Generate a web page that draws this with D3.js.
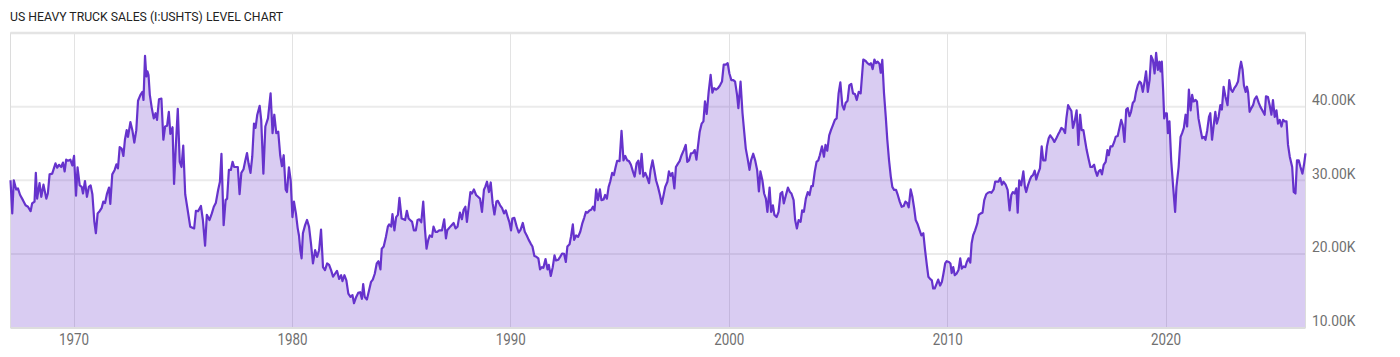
<!DOCTYPE html>
<html>
<head>
<meta charset="utf-8">
<script src="https://cdn.jsdelivr.net/npm/d3@7"></script>
<style>
  body { margin: 0; background: #fff; }
  svg { display: block; }
</style>
</head>
<body>
<div id="chart"></div>
<script>
const chartTitle = "US HEAVY TRUCK SALES (I:USHTS) LEVEL CHART";

// decimal year of each reading
const years = [
  1967.11,1967.19,1967.26,1967.37,1967.45,1967.55,1967.68,1967.80,1967.91,1968.03,1968.10,1968.21,1968.27,1968.33,1968.44,1968.52,1968.62,1968.75,1968.82,1968.90,
  1969.02,1969.17,1969.25,1969.33,1969.43,1969.51,1969.59,1969.66,1969.74,1969.85,1969.94,1970.02,1970.11,1970.18,1970.28,1970.37,1970.43,1970.52,1970.61,1970.70,
  1970.78,1970.86,1970.95,1971.02,1971.10,1971.19,1971.28,1971.36,1971.44,1971.53,1971.62,1971.68,1971.77,1971.88,1971.96,1972.03,1972.11,1972.20,1972.28,1972.35,
  1972.43,1972.49,1972.60,1972.69,1972.78,1972.87,1972.95,1973.06,1973.15,1973.20,1973.27,1973.33,1973.38,1973.43,1973.49,1973.58,1973.67,1973.75,1973.82,1973.91,
  1974.02,1974.11,1974.19,1974.28,1974.36,1974.43,1974.53,1974.60,1974.68,1974.77,1974.86,1974.94,1975.02,1975.11,1975.20,1975.34,1975.52,1975.60,1975.70,1975.83,
  1975.92,1976.02,1976.10,1976.22,1976.33,1976.42,1976.51,1976.62,1976.70,1976.77,1976.87,1976.96,1977.03,1977.11,1977.20,1977.28,1977.35,1977.52,1977.60,1977.68,
  1977.78,1977.87,1977.94,1978.01,1978.10,1978.18,1978.26,1978.33,1978.41,1978.52,1978.59,1978.69,1978.78,1978.90,1979.02,1979.11,1979.19,1979.28,1979.37,1979.46,
  1979.54,1979.62,1979.71,1979.77,1979.86,1979.94,1980.02,
  1980.09,1980.18,1980.26,1980.32,1980.38,1980.44,1980.50,1980.60,1980.69,1980.78,1980.87,1980.96,1981.06,1981.15,1981.24,1981.33,1981.42,1981.51,1981.61,1981.70,
  1981.79,1981.88,1981.97,1982.06,1982.16,1982.25,1982.31,1982.40,1982.49,1982.58,1982.68,1982.77,1982.84,1982.94,1983.03,1983.12,1983.20,1983.26,1983.33,1983.43,
  1983.53,1983.62,1983.70,1983.79,1983.88,1983.96,1984.05,1984.11,1984.20,1984.30,1984.39,1984.45,1984.54,1984.60,1984.69,1984.77,1984.85,1984.92,1985.02,1985.11,
  1985.18,1985.26,1985.34,1985.41,1985.50,1985.58,1985.67,1985.75,1985.83,1985.92,1986.01,1986.09,1986.16,1986.24,1986.31,1986.41,1986.48,1986.57,1986.65,1986.74,
  1986.87,1986.97,1987.05,1987.11,1987.22,1987.31,1987.40,1987.49,1987.58,1987.69,1987.78,1987.86,1987.94,1988.01,1988.09,1988.17,1988.24,1988.33,1988.43,1988.52,
  1988.61,1988.70,1988.79,1988.85,1988.93,1989.02,1989.10,1989.19,1989.27,1989.36,1989.43,1989.53,1989.62,1989.71,1989.79,1989.88,1989.95,1990.03,1990.09,1990.18,
  1990.29,1990.38,1990.47,1990.57,1990.66,1990.75,1990.84,1990.93,1991.01,1991.10,1991.19,1991.28,1991.36,1991.44,1991.51,1991.61,1991.70,1991.76,1991.85,1991.94,
  1992.02,1992.09,1992.19,1992.28,1992.37,1992.46,1992.54,1992.61,1992.71,1992.78,1992.86,1992.92,1993.01,1993.10,1993.20,
  1993.29,1993.38,1993.46,1993.53,1993.62,1993.70,1993.78,1993.85,1993.93,1994.01,1994.10,1994.17,1994.27,1994.34,1994.42,1994.50,1994.57,1994.66,1994.74,1994.82,
  1994.89,1995.00,1995.09,1995.18,1995.26,1995.35,1995.43,1995.52,1995.61,1995.69,1995.78,1995.86,1995.93,1996.01,1996.09,1996.18,1996.25,1996.35,1996.42,1996.51,
  1996.59,1996.67,1996.76,1996.85,1996.93,1997.00,1997.09,1997.19,1997.26,1997.34,1997.42,1997.51,1997.58,1997.68,1997.75,1997.84,1997.94,1998.03,1998.10,1998.18,
  1998.27,1998.36,1998.44,1998.52,1998.59,1998.67,1998.76,1998.84,1998.91,1998.99,1999.08,1999.17,1999.25,1999.33,1999.42,1999.51,1999.60,1999.69,1999.77,1999.86,
  1999.95,2000.03,2000.12,2000.21,2000.29,2000.38,2000.44,2000.54,2000.63,2000.70,2000.78,2000.86,2000.95,2001.02,2001.12,2001.21,2001.30,2001.38,2001.45,2001.54,
  2001.62,2001.70,2001.77,2001.87,2001.94,2002.02,2002.09,2002.19,2002.28,2002.37,2002.45,2002.52,2002.61,2002.71,2002.80,2002.87,2002.97,2003.04,2003.12,2003.20,
  2003.29,2003.36,2003.44,2003.53,2003.62,2003.70,2003.78,2003.85,2003.94,2004.02,2004.10,2004.17,2004.27,2004.36,2004.43,2004.51,2004.60,2004.68,2004.77,2004.86,
  2004.94,2005.03,2005.11,2005.20,2005.28,2005.35,2005.44,2005.52,2005.61,2005.69,2005.78,2005.86,2005.95,2006.04,
  2006.16,2006.27,2006.35,2006.44,2006.51,2006.59,2006.67,2006.74,2006.82,2006.90,2006.96,2007.03,2007.11,2007.19,2007.26,2007.34,2007.42,2007.49,2007.57,2007.66,
  2007.74,2007.83,2007.92,2008.01,2008.09,2008.17,2008.24,2008.33,2008.41,2008.49,2008.56,2008.64,2008.73,2008.82,2008.91,2008.99,2009.07,2009.14,2009.22,2009.30,
  2009.36,2009.43,2009.51,2009.59,2009.68,2009.76,2009.83,2009.91,2009.98,2010.08,2010.15,2010.21,2010.28,2010.35,2010.43,2010.52,2010.60,2010.67,2010.75,2010.83,
  2010.90,2010.98,2011.06,2011.12,2011.19,2011.28,2011.38,2011.45,2011.54,2011.62,2011.70,2011.79,2011.87,2011.96,2012.03,2012.13,2012.20,2012.28,2012.35,2012.43,
  2012.51,2012.58,2012.68,2012.77,2012.86,2012.94,2013.01,2013.09,2013.17,2013.23,2013.30,2013.39,2013.49,2013.56,2013.62,2013.70,2013.78,2013.85,2013.93,2014.01,
  2014.08,2014.16,2014.25,2014.33,2014.40,2014.50,2014.57,2014.65,2014.72,2014.82,2014.91,2015.00,2015.08,2015.15,2015.23,2015.32,2015.40,2015.46,2015.54,2015.61,
  2015.69,2015.76,2015.84,2015.93,2016.01,2016.09,2016.16,2016.24,2016.31,2016.39,2016.47,2016.56,2016.64,2016.73,2016.80,2016.87,2016.94,2017.02,2017.09,2017.17,
  2017.26,2017.34,2017.40,2017.48,2017.57,2017.65,2017.72,2017.81,2017.89,2017.97,2018.04,2018.12,2018.20,2018.27,2018.35,2018.42,2018.50,2018.58,2018.65,2018.73,
  2018.81,2018.88,
  2018.96,2019.04,2019.11,2019.19,2019.27,2019.34,2019.42,2019.50,2019.57,2019.65,2019.72,2019.77,2019.83,2019.89,2019.94,2020.00,2020.06,2020.11,2020.18,2020.26,
  2020.35,2020.44,2020.50,2020.60,2020.69,2020.76,2020.84,2020.92,2020.99,2021.07,2021.15,2021.22,2021.28,2021.38,2021.44,2021.51,2021.61,2021.68,2021.76,2021.83,
  2021.91,2021.99,2022.05,2022.13,2022.20,2022.28,2022.35,2022.43,2022.51,2022.58,2022.66,2022.74,2022.84,2022.92,2023.00,2023.07,2023.15,2023.24,2023.32,2023.39,
  2023.46,2023.53,2023.59,2023.67,2023.73,2023.78,2023.85,2023.93,2024.01,2024.08,2024.17,2024.27,2024.34,2024.43,2024.54,2024.60,2024.69,2024.77,2024.85,2024.92,
  2025.00,2025.08,2025.15,2025.23,2025.31,2025.38,2025.46,2025.54,2025.61,2025.69,2025.80,2025.87,2025.95,2026.02,2026.10,2026.18,2026.27,2026.35,2026.41
];

// sales, thousands of units
const sales = [
  30.0,25.5,30.0,28.75,28.9,28.0,27.3,26.6,26.4,25.8,26.85,27.1,31.0,27.5,29.6,27.75,29.4,27.5,28.2,30.8,
  30.9,32.3,31.7,32.1,31.8,32.4,31.2,32.8,32.65,32.8,32.0,33.3,27.9,31.75,29.3,29.1,28.2,29.9,27.75,29.1,
  29.3,28.1,24.35,22.8,25.5,25.8,26.2,27.1,26.9,28.2,29.0,26.8,30.8,31.4,32.15,31.6,34.5,34.3,33.3,35.5,
  36.8,35.9,37.9,36.8,35.1,36.8,40.8,41.6,42.0,40.9,46.9,44.1,44.8,44.3,41.6,39.8,38.4,39.1,38.2,41.0,
  41.1,35.5,37.3,37.4,39.3,36.3,37.2,29.5,34.6,39.7,32.5,31.8,34.7,28.1,26.4,23.7,23.45,25.85,25.8,26.5,
  24.6,21.1,25.3,24.6,25.5,26.4,26.9,28.7,29.8,33.6,23.9,27.3,27.5,31.4,31.4,32.5,31.8,31.8,28.1,31.0,
  31.5,32.8,33.7,32.3,31.0,33.2,37.7,37.1,38.9,40.1,38.2,30.9,37.3,38.4,41.8,36.4,38.9,36.4,36.6,33.4,
  31.9,33.4,28.75,28.4,31.75,30.0,25.0,
  27.1,25.5,23.5,22.5,20.5,19.4,22.8,23.9,24.6,23.7,21.4,18.7,20.5,19.6,20.5,23.3,18.2,17.8,18.7,18.5,
  17.8,16.9,17.3,17.7,16.6,17.1,16.3,17.1,16.4,14.6,14.15,14.4,13.3,14.15,14.7,14.8,13.9,15.9,14.15,13.8,
  15.05,16.2,16.5,17.3,18.7,19.0,17.9,20.7,21.0,22.3,23.7,24.0,23.7,25.4,23.2,25.0,25.3,27.6,24.8,24.7,
  24.6,25.85,24.8,24.6,24.35,23.2,23.2,24.6,24.7,24.3,27.1,23.3,20.7,21.9,22.5,22.3,23.7,23.0,23.0,23.2,
  23.2,24.7,22.1,23.2,23.6,23.9,24.2,23.45,23.7,25.6,24.7,26.0,26.4,24.35,26.4,28.4,28.2,28.75,28.0,27.75,
  27.5,25.7,28.7,29.1,29.8,28.4,29.7,26.85,25.35,27.1,27.2,26.6,26.2,25.5,25.9,25.0,24.35,23.2,24.8,24.9,
  23.7,22.9,23.3,24.2,23.0,22.5,21.9,21.4,21.0,19.7,19.6,19.4,17.9,18.2,18.1,19.3,17.9,18.5,17.0,18.2,
  19.8,19.1,19.2,19.6,20.05,20.0,18.9,21.0,21.3,22.4,24.0,21.9,22.5,22.3,23.0,
  24.1,24.9,25.7,25.6,25.9,26.0,26.4,25.9,28.75,27.3,28.75,27.3,27.4,28.0,27.5,29.1,29.8,31.0,30.7,31.8,
  32.65,32.6,36.7,32.7,33.3,32.7,32.6,32.1,31.2,30.5,32.3,32.65,30.9,33.6,30.5,31.0,30.5,29.6,31.4,32.7,
  31.4,30.0,29.1,28.0,26.8,27.75,29.1,29.8,31.2,30.6,31.0,28.9,31.8,32.3,32.6,33.4,34.1,34.8,32.5,32.7,
  33.65,33.7,34.1,32.8,34.6,36.6,37.7,38.0,40.7,39.0,42.0,44.3,41.9,42.5,42.3,42.5,42.9,43.4,45.7,45.7,
  45.9,44.5,43.6,43.6,43.4,41.6,39.8,43.4,39.1,36.8,34.3,33.0,31.4,32.7,33.6,32.7,31.4,28.5,31.2,30.0,
  28.2,27.5,25.7,29.0,25.7,26.6,25.3,25.0,25.7,28.2,28.4,26.85,27.9,29.0,28.4,28.2,27.3,24.6,23.45,24.6,
  24.35,25.9,25.7,27.5,28.4,28.0,29.2,29.2,31.2,32.5,32.7,33.4,34.6,33.2,34.8,34.0,36.1,36.8,37.5,38.2,
  38.4,41.8,43.3,40.2,39.6,40.5,40.8,42.9,43.1,41.8,41.7,40.9,42.0,41.8,
  46.4,46.2,45.9,45.7,45.9,45.1,46.4,45.9,46.1,45.8,44.6,46.35,41.8,38.6,35.5,32.7,30.5,29.1,28.7,28.7,
  28.0,27.1,26.4,26.5,27.1,26.9,26.3,28.75,27.75,26.2,24.6,24.1,23.3,22.5,22.8,20.5,18.5,16.9,16.6,16.4,
  15.3,15.3,15.9,16.5,15.7,16.2,17.3,18.7,19.0,18.9,18.7,17.4,18.2,17.1,17.3,17.8,19.4,18.0,18.3,18.2,
  18.9,19.4,18.8,21.4,22.5,23.2,24.1,25.3,25.5,25.6,27.3,28.1,28.3,28.4,28.3,28.75,29.8,29.8,29.8,30.3,
  29.4,29.8,29.4,28.7,25.9,28.0,28.4,28.2,28.9,25.6,30.0,29.3,31.2,29.1,28.4,29.3,30.0,30.5,30.7,31.3,
  30.1,30.9,31.6,34.6,32.7,32.7,34.6,35.7,36.1,35.7,35.2,35.7,36.2,36.6,37.1,36.9,36.4,38.4,40.2,39.8,
  39.4,37.1,38.0,39.5,34.8,38.9,36.8,36.8,35.5,34.1,33.0,31.8,31.8,32.1,31.2,30.6,31.2,31.4,30.8,32.1,
  32.5,34.1,33.4,34.6,34.6,35.2,35.9,36.0,37.1,38.2,37.5,35.2,39.6,39.8,38.7,39.3,40.5,40.8,42.0,42.9,
  43.4,43.2,
  42.0,43.4,44.8,42.0,43.6,46.9,46.35,44.5,47.3,45.0,46.1,44.8,46.1,42.3,38.4,39.1,39.1,36.4,38.0,32.7,
  29.1,25.7,29.1,31.8,35.9,36.4,37.1,38.9,37.3,42.3,39.5,41.6,40.7,40.9,40.7,38.4,36.8,35.7,35.9,35.5,
  36.8,38.6,39.1,35.5,37.3,39.3,37.7,38.6,40.2,39.6,42.7,41.4,40.2,43.6,42.3,42.0,42.5,42.9,43.4,45.0,
  46.1,45.0,42.9,42.0,42.7,42.0,39.3,39.8,40.2,41.0,41.4,40.5,40.0,39.5,38.9,41.4,41.3,40.2,38.9,40.9,
  38.6,39.5,37.7,38.2,37.3,38.2,38.0,38.0,34.8,33.2,31.8,28.4,28.2,32.7,32.7,31.8,30.9,32.3,33.65
];

const xTicks = [1970, 1980, 1990, 2000, 2010, 2020];
const yTicks = [10, 20, 30, 40];
const yGrid = [20, 30, 40];

const W = 1400, H = 357;
const plot = { left: 10.5, right: 1305.5, top: 33, bottom: 327.5 };

const data = years.map((y, i) => ({ year: y, value: sales[i] }));

const x = d3.scaleLinear().domain(d3.extent(years)).range([plot.left, plot.right]);
const y = d3.scaleLinear().domain([10, 50]).range([plot.bottom, plot.top]);

const svg = d3.select("#chart").append("svg")
    .attr("width", W)
    .attr("height", H);

// title
svg.append("text")
    .attr("x", 10)
    .attr("y", 21)
    .attr("textLength", 273)
    .attr("lengthAdjust", "spacingAndGlyphs")
    .style("font-family", "Roboto, sans-serif")
    .style("font-size", "13px")
    .style("fill", "#222")
    .text(chartTitle);

// grid lines
svg.append("g")
    .selectAll("line")
    .data(yGrid)
    .enter().append("line")
    .attr("x1", plot.left)
    .attr("x2", plot.right)
    .attr("y1", d => y(d))
    .attr("y2", d => y(d))
    .attr("stroke", "#ebebeb")
    .attr("stroke-width", 2);

svg.append("g")
    .selectAll("line")
    .data(xTicks)
    .enter().append("line")
    .attr("x1", d => Math.round(x(d)) + 0.5)
    .attr("x2", d => Math.round(x(d)) + 0.5)
    .attr("y1", plot.top)
    .attr("y2", plot.bottom)
    .attr("stroke", "#e3e3e3")
    .attr("stroke-width", 1);

// area + line
const area = d3.area()
    .x(d => x(d.year))
    .y0(y(10))
    .y1(d => y(d.value));

const line = d3.line()
    .x(d => x(d.year))
    .y(d => y(d.value));

svg.append("path")
    .datum(data)
    .attr("d", area)
    .attr("fill", "#6633cc")
    .attr("fill-opacity", 0.25);

// frame
svg.append("rect")
    .attr("x", plot.left)
    .attr("y", plot.top)
    .attr("width", plot.right - plot.left)
    .attr("height", plot.bottom - plot.top)
    .attr("fill", "none")
    .attr("stroke", "#dcdcdc")
    .attr("stroke-width", 1);

svg.append("line")
    .attr("x1", plot.left).attr("x2", plot.right)
    .attr("y1", plot.top).attr("y2", plot.top)
    .attr("stroke", "#e4e4e4").attr("stroke-width", 2.5);

svg.append("line")
    .attr("x1", plot.left).attr("x2", plot.right)
    .attr("y1", plot.bottom + 0.5).attr("y2", plot.bottom + 0.5)
    .attr("stroke", "#dddddd").attr("stroke-width", 2);

svg.append("path")
    .datum(data)
    .attr("d", line)
    .attr("fill", "none")
    .attr("stroke", "#6633cc")
    .attr("stroke-width", 2.2)
    .attr("stroke-linejoin", "round");

// y axis labels (right)
svg.append("g")
    .selectAll("text")
    .data(yTicks)
    .enter().append("text")
    .attr("x", 1312)
    .attr("y", d => y(d) - 1.5)
    .attr("textLength", 43.5)
    .attr("lengthAdjust", "spacingAndGlyphs")
    .style("font-family", "Roboto, sans-serif")
    .style("font-size", "15px")
    .style("fill", "#707070")
    .text(d => d.toFixed(2) + "K");

// x axis labels
svg.append("g")
    .selectAll("text")
    .data(xTicks)
    .enter().append("text")
    .attr("x", d => x(d) + 0.5)
    .attr("y", 345)
    .attr("text-anchor", "middle")
    .attr("textLength", 30)
    .attr("lengthAdjust", "spacingAndGlyphs")
    .style("font-family", "Roboto, sans-serif")
    .style("font-size", "16px")
    .style("fill", "#707070")
    .text(d => d);
</script>
</body>
</html>
